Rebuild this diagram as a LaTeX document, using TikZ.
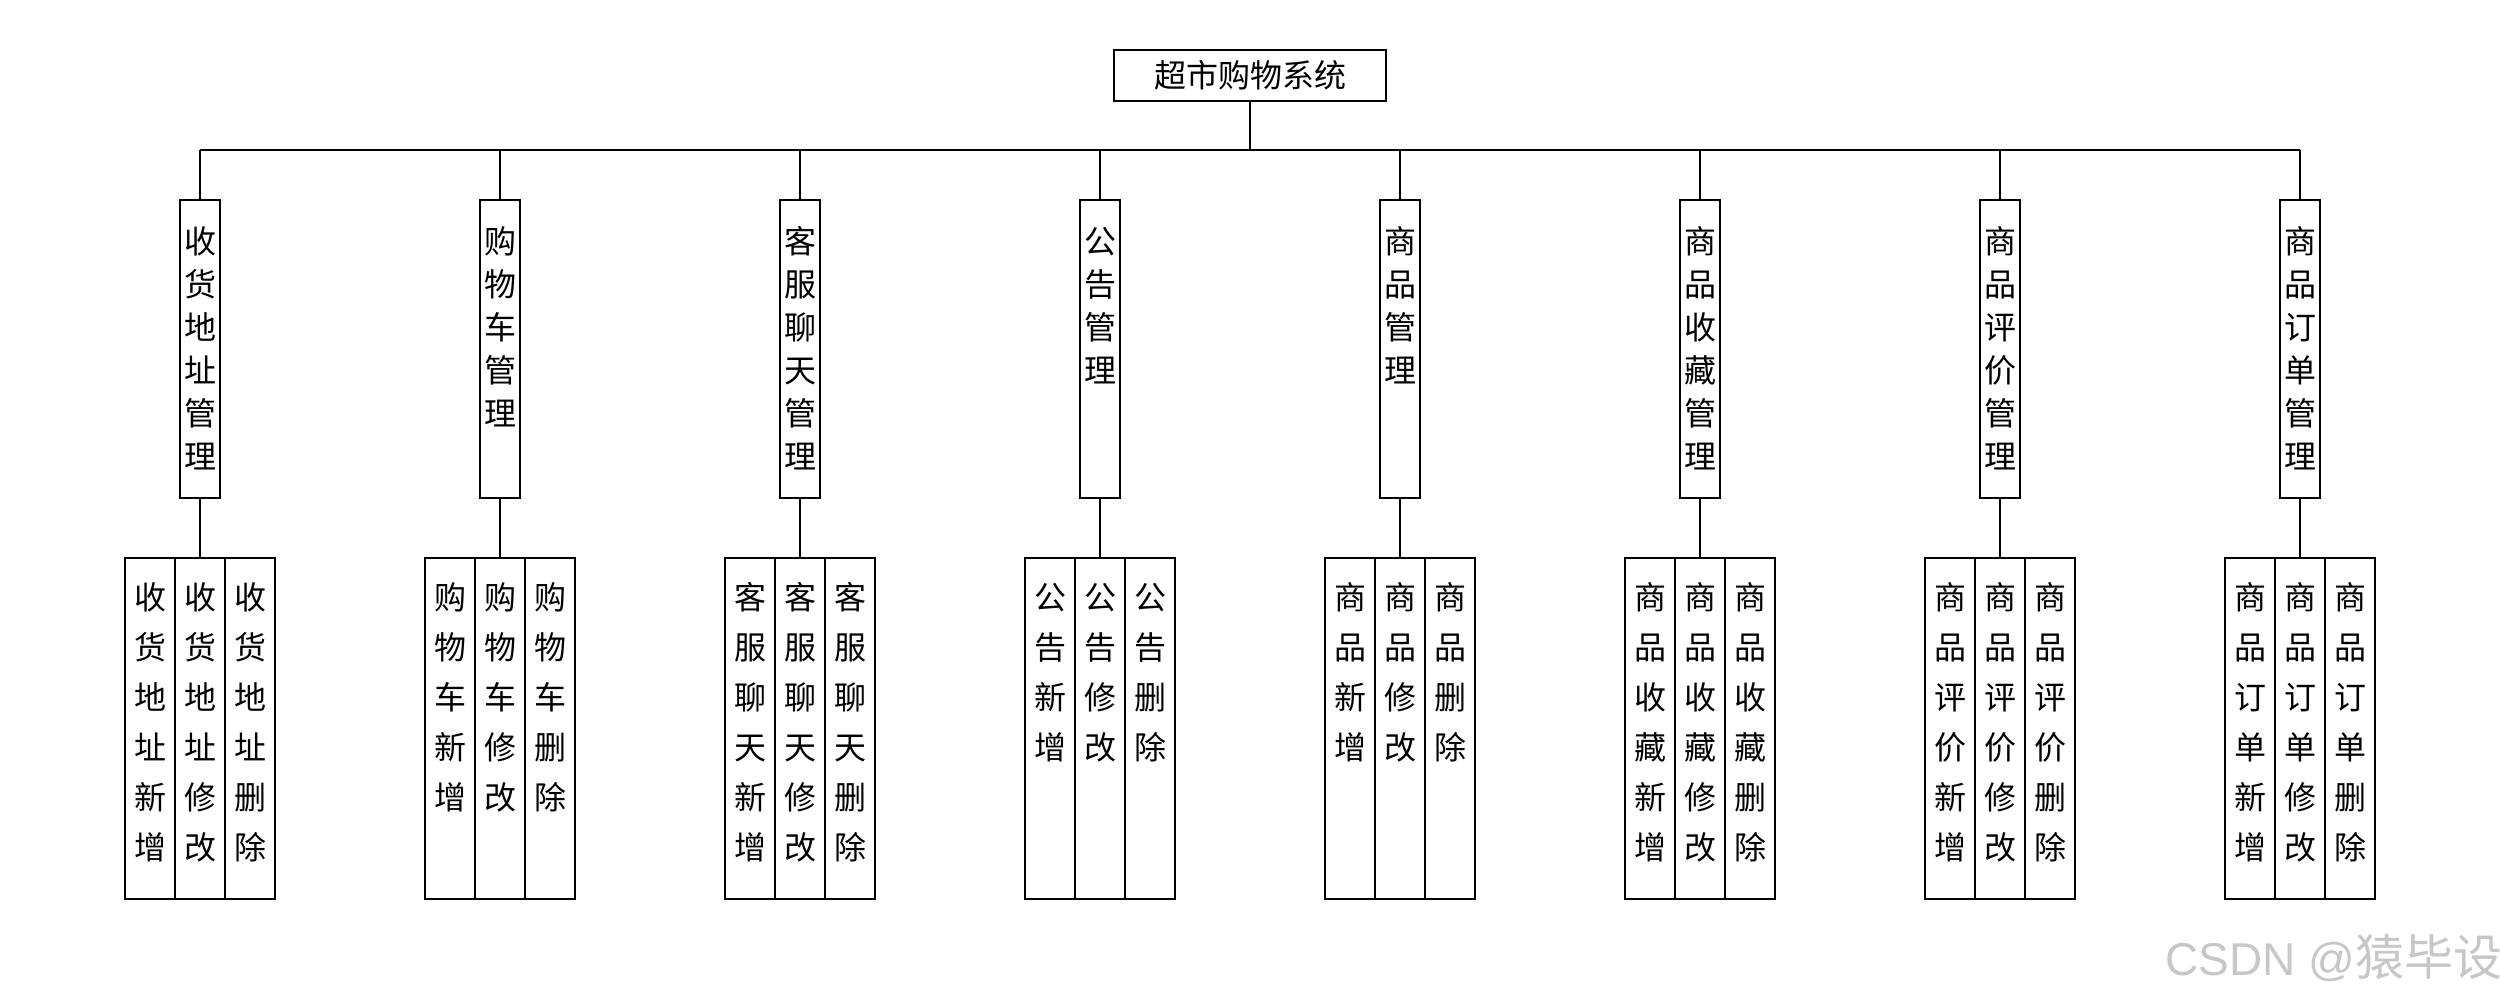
\documentclass[tikz,border=0pt]{standalone}
\usepackage{fontspec}
\setmainfont{Liberation Sans}
\newfontfamily\cjk{Noto Sans CJK SC}
\tikzset{
  l1box/.style={draw, line width=1.3pt, minimum width=40pt, minimum height=298pt, inner sep=0pt},
  l2box/.style={draw, line width=1.3pt, minimum width=50pt, minimum height=341pt, inner sep=0pt},
  rootbox/.style={draw, line width=1.3pt, minimum width=272pt, minimum height=51pt, inner sep=0pt,
    font=\cjk\fontsize{32}{32}\selectfont},
  vch/.style={anchor=base, inner sep=0pt, font=\cjk\fontsize{32}{32}\selectfont},
  conn/.style={line width=1.2pt},
  wmark/.style={anchor=base west, inner sep=0pt, text=black!22, font=\fontsize{46}{46}\selectfont}
}
\newcommand\grp[4]{%
  \node[l1box] (m#1) at (#2,-349) {};
  \foreach \ch [count=\k] in {#3} \node[vch] (m#1-t\k) at (#2,{-253.5-(\k-1)*43}) {\ch};
  \node[l2box] (s#1-a) at (#2-50,-728.5) {};
  \node[l2box] (s#1-b) at (#2,-728.5) {};
  \node[l2box] (s#1-c) at (#2+50,-728.5) {};
  \foreach \ch [count=\k] in {#4,新,增} \node[vch] (s#1-a\k) at (#2-50,{-609-(\k-1)*50}) {\ch};
  \foreach \ch [count=\k] in {#4,修,改} \node[vch] (s#1-b\k) at (#2,{-609-(\k-1)*50}) {\ch};
  \foreach \ch [count=\k] in {#4,删,除} \node[vch] (s#1-c\k) at (#2+50,{-609-(\k-1)*50}) {\ch};
  \draw[conn] (m#1.south) -- (s#1-b.north);
  \draw[conn] (m#1.north) -- (m#1.north |- bus);
}
\begin{document}
\begin{tikzpicture}[x=1pt,y=1pt]
\useasboundingbox (0,0) rectangle (2500,-1000);
\node[rootbox] (root) at (1250,-75.5) {超市购物系统};
\coordinate (bus) at (1250,-150);
\draw[conn] (root.south) -- (bus);
\grp{1}{200}{收,货,地,址,管,理}{收,货,地,址}
\grp{2}{500}{购,物,车,管,理}{购,物,车}
\grp{3}{800}{客,服,聊,天,管,理}{客,服,聊,天}
\grp{4}{1100}{公,告,管,理}{公,告}
\grp{5}{1400}{商,品,管,理}{商,品}
\grp{6}{1700}{商,品,收,藏,管,理}{商,品,收,藏}
\grp{7}{2000}{商,品,评,价,管,理}{商,品,评,价}
\grp{8}{2300}{商,品,订,单,管,理}{商,品,订,单}
\draw[conn] (m1.north |- bus) -- (m8.north |- bus);
\node[wmark] (wm) at (2165,-975) {CSDN @{\cjk\fontsize{49}{49}\selectfont 猿毕设}};
\end{tikzpicture}
\end{document}
